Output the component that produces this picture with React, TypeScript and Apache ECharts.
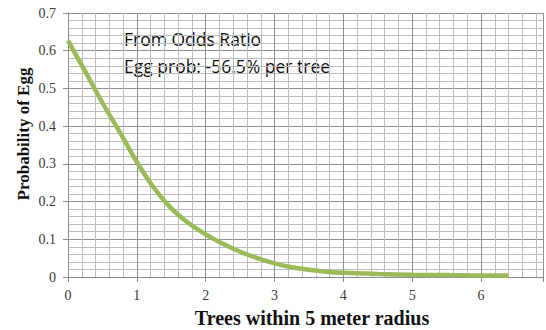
import React, { useEffect, useRef } from "react";
import * as echarts from "echarts";

const xValues = [0, 0.25, 0.5, 0.75, 1.0, 1.25, 1.5, 1.75, 2.0, 2.25, 2.5, 2.75, 3.0, 3.25, 3.5, 3.75, 4.0, 4.5, 5.0, 5.5, 6.0, 6.4];
const probValues = [0.627, 0.545, 0.462, 0.385, 0.305, 0.236, 0.182, 0.143, 0.113, 0.088, 0.067, 0.05, 0.036, 0.026, 0.019, 0.014, 0.011, 0.008, 0.006, 0.005, 0.004, 0.004];
const annotationLines = ["From Odds Ratio", "Egg prob: -56.5% per tree"];
const xAxisTitle = "Trees within 5 meter radius";
const yAxisTitle = "Probability of Egg";

export default function App() {
  const ref = useRef<HTMLDivElement>(null);
  useEffect(() => {
    document.body.style.margin = "0";
    const chart = echarts.init(ref.current!, null, { renderer: "svg" });
    const serif = "'Liberation Serif', 'DejaVu Serif', serif";
    chart.setOption({
      animation: false,
      backgroundColor: "#ffffff",
      grid: { left: 68, right: 0, top: 13, bottom: 53 },
      xAxis: {
        type: "value",
        min: 0,
        max: 6.9,
        interval: 1,
        axisLine: { show: true, lineStyle: { color: "#8a8a8a", width: 1 } },
        axisTick: { show: true, length: 5, lineStyle: { color: "#8a8a8a" } },
        axisLabel: {
          margin: 11,
          color: "#3a3a3a",
          fontFamily: serif,
          fontSize: 14,
          formatter: (v: number) => (v > 6.5 ? "" : String(v)),
        },
        splitLine: { show: true, lineStyle: { color: "#8f8f8f", width: 1 } },
        minorTick: { show: false, splitNumber: 5 },
        minorSplitLine: { show: true, lineStyle: { color: "#bdbdbd", width: 1 } },
      },
      yAxis: {
        type: "value",
        min: 0,
        max: 0.7,
        interval: 0.1,
        axisLine: { show: true, lineStyle: { color: "#8a8a8a", width: 1 } },
        axisTick: { show: true, length: 5, lineStyle: { color: "#8a8a8a" } },
        axisLabel: {
          margin: 12,
          color: "#3a3a3a",
          fontFamily: serif,
          fontSize: 14,
          formatter: (v: number) => (v === 0 ? "0" : v.toFixed(1)),
        },
        splitLine: { show: true, lineStyle: { color: "#8f8f8f", width: 1 } },
        minorTick: { show: false, splitNumber: 5 },
        minorSplitLine: { show: true, lineStyle: { color: "#bdbdbd", width: 1 } },
      },
      series: [
        {
          type: "line",
          data: xValues.map((x, i) => [x, probValues[i]]),
          smooth: 0.3,
          showSymbol: false,
          lineStyle: { color: "#9bbb59", width: 4.5 },
          itemStyle: { color: "#9bbb59" },
        },
      ],
      graphic: [
        {
          type: "text",
          left: 124,
          top: 25,
          style: {
            text: annotationLines.join("\n"),
            fontFamily: "'Open Sans', 'Noto Sans', sans-serif",
            fontSize: 17.5,
            lineHeight: 27,
            fill: "#0d0d0d",
          },
        },
        {
          type: "text",
          x: 312,
          y: 318,
          style: {
            text: xAxisTitle,
            fontFamily: serif,
            fontWeight: "bold",
            fontSize: 20,
            fill: "#111",
            align: "center",
            verticalAlign: "middle",
          },
        },
        {
          type: "text",
          x: 23,
          y: 134,
          rotation: Math.PI / 2,
          style: {
            text: yAxisTitle,
            fontFamily: serif,
            fontWeight: "bold",
            fontSize: 17,
            fill: "#111",
            align: "center",
            verticalAlign: "middle",
          },
        },
      ],
    });
    return () => chart.dispose();
  }, []);
  return <div ref={ref} style={{ width: 546, height: 330 }} />;
}
